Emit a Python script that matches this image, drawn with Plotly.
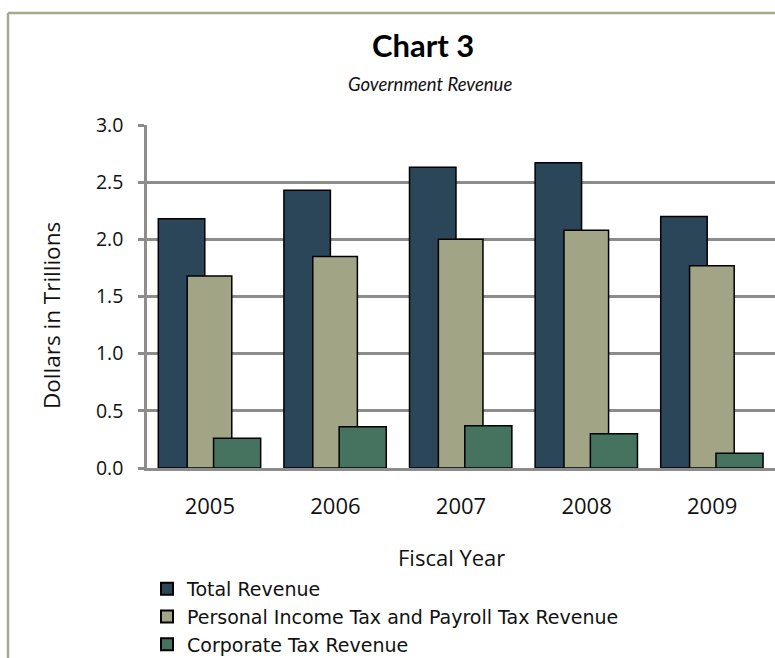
import plotly.graph_objects as go

years = ["2005", "2006", "2007", "2008", "2009"]
total_revenue = [2.18, 2.43, 2.63, 2.67, 2.20]
personal_payroll = [1.68, 1.85, 2.00, 2.08, 1.77]
corporate = [0.26, 0.36, 0.37, 0.30, 0.13]
series_names = ["Total Revenue", "Personal Income Tax and Payroll Tax Revenue", "Corporate Tax Revenue"]
y_ticks = [0, 0.5, 1.0, 1.5, 2.0, 2.5, 3.0]
y_tick_text = ["0.0", "0.5", "1.0", "1.5", "2.0", "2.5", "3.0"]

W, H = 775, 658
L, R, T, B = 147, 0, 125, 190


def px(x):
    return (x - L) / (W - L - R)


def py(y):
    return (H - B - y) / (H - T - B)


MAIN_FONT = "Open Sans, Noto Sans, sans-serif"
COND_FONT = "Lato, Roboto, sans-serif"
LEGEND_FONT = "DejaVu Sans, Verdana, sans-serif"

colors = ["#2b4659", "#a2a585", "#457360"]
offsets = [-0.41, -0.18, 0.03]
widths = [0.37, 0.355, 0.375]
values = [total_revenue, personal_payroll, corporate]

fig = go.Figure()
for name, vals, c, off, wd in zip(series_names, values, colors, offsets, widths):
    fig.add_trace(go.Bar(
        x=years, y=vals, name=name,
        offset=off, width=wd,
        marker=dict(color=c, line=dict(color="#000000", width=1.5)),
    ))

grid_col = "#8c8c8c"
fig.update_layout(
    width=W, height=H,
    margin=dict(l=L, r=R, t=T, b=B, pad=0, autoexpand=False),
    paper_bgcolor="white", plot_bgcolor="white",
    barmode="overlay",
    showlegend=True,
    legend=dict(
        x=px(147), xanchor="left", y=py(570), yanchor="top",
        font=dict(family=LEGEND_FONT, size=19, color="#111111"),
        tracegroupgap=0, itemsizing="constant",
        bgcolor="rgba(0,0,0,0)",
    ),
    font=dict(family=MAIN_FONT, color="#111111"),
    xaxis=dict(
        type="category", showgrid=False,
        showline=True, linecolor=grid_col, linewidth=3,
        ticks="", tickfont=dict(family=MAIN_FONT, size=22, color="#111111"),
        ticklabelstandoff=17,
        fixedrange=True,
    ),
    yaxis=dict(
        range=[0, 3.0], tickvals=y_ticks, ticktext=y_tick_text,
        showgrid=True, gridcolor=grid_col, gridwidth=2.5,
        showline=True, linecolor=grid_col, linewidth=2.5,
        ticks="outside", ticklen=6, tickcolor=grid_col, tickwidth=2.5,
        tickfont=dict(family=MAIN_FONT, size=19.5, color="#111111"),
        ticklabelstandoff=11,
        zeroline=False, fixedrange=True,
    ),
    annotations=[
        dict(text="<b>Chart 3</b>", x=px(423), y=py(45), xref="paper", yref="paper",
             xanchor="center", yanchor="middle", showarrow=False,
             font=dict(family=COND_FONT, size=31, color="#000000")),
        dict(text="<i>Government Revenue</i>", x=px(430), y=py(84), xref="paper", yref="paper",
             xanchor="center", yanchor="middle", showarrow=False,
             font=dict(family=COND_FONT, size=18.5, color="#111111")),
        dict(text="Fiscal Year", x=px(451), y=py(557), xref="paper", yref="paper",
             xanchor="center", yanchor="middle", showarrow=False,
             font=dict(family=MAIN_FONT, size=22, color="#111111")),
        dict(text="Dollars in Trillions", x=px(51), y=py(316), xref="paper", yref="paper",
             xanchor="center", yanchor="middle", showarrow=False, textangle=-90,
             font=dict(family=MAIN_FONT, size=22.5, color="#111111")),
    ],
    shapes=[
        dict(type="line", xref="paper", yref="paper", x0=px(8), x1=px(W + 10), y0=py(13), y1=py(13),
             line=dict(color="#a5a98b", width=2.5)),
        dict(type="line", xref="paper", yref="paper", x0=px(8), x1=px(8), y0=py(13), y1=py(H + 10),
             line=dict(color="#a5a98b", width=2.5)),
    ],
)

fig.write_html(
    "out.html",
    config={"displayModeBar": False},
    post_script="document.body.style.margin='0px'; document.body.style.overflow='hidden';",
)
